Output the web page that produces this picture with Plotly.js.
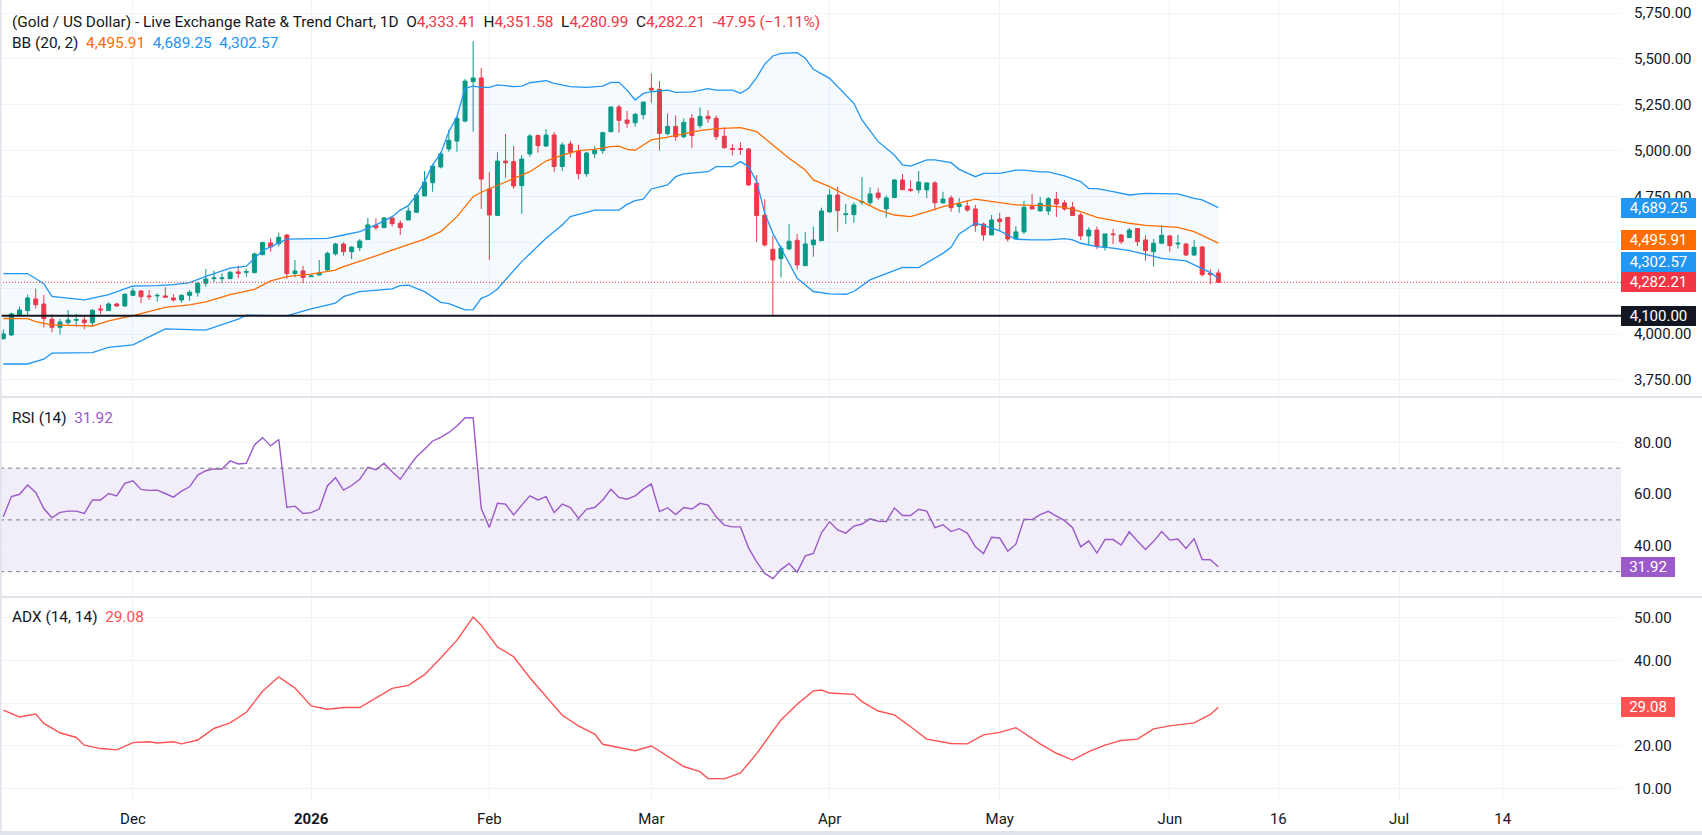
<!DOCTYPE html>
<html>
<head>
<meta charset="utf-8">
<script src="https://cdn.plot.ly/plotly-3.0.1.min.js"></script>
<style>
html,body{margin:0;padding:0;background:#ffffff;}
#chart{width:1702px;height:835px;}
</style>
</head>
<body>
<div id="chart"></div>
<script>
// ---------- DATA ----------
const openP = [3975,3995,4101,4128,4191,4164,4081,4037,4062,4075,4077,4062,4137,4128,4164,4153,4211,4235,4208,4208,4208,4197,4186,4211,4226,4277,4302,4302,4302,4339,4337,4335,4433,4497,4493,4540,4330,4344,4313,4322,4349,4437,4491,4449,4471,4515,4593,4580,4633,4604,4622,4664,4753,4825,4911,5009,5052,5161,5376,5396,4791,4647,4943,4940,4809,4982,5082,5025,5085,4913,5036,4998,4874,4983,5000,5103,5238,5167,5152,5196,5340,5334,5092,5132,5076,5176,5136,5187,5176,5078,5011,5011,5009,4822,4648,4462,4411,4464,4511,4373,4487,4509,4666,4758,4651,4651,4718,4716,4769,4682,4744,4840,4789,4786,4786,4824,4715,4742,4695,4698,4682,4600,4540,4627,4636,4518,4557,4695,4671,4671,4736,4715,4691,4649,4535,4567,4473,4546,4540,4526,4575,4513,4449,4495,4535,4491,4491,4431,4475,4330,4333.41];
const highP = [4026,4117,4150,4215,4248,4213,4108,4082,4131,4110,4099,4135,4159,4173,4171,4222,4253,4240,4240,4222,4255,4217,4217,4240,4284,4355,4346,4331,4344,4373,4355,4444,4504,4522,4553,4546,4404,4371,4322,4404,4449,4497,4500,4480,4518,4633,4631,4637,4633,4620,4691,4767,4889,4927,4993,5114,5185,5390,5597,5450,4884,4991,5091,5025,4976,5089,5089,5118,5102,5045,5052,5031,4994,5025,5103,5238,5249,5216,5205,5265,5421,5379,5203,5192,5176,5200,5236,5220,5192,5127,5036,5045,5014,4867,4735,4535,4484,4600,4546,4557,4586,4689,4789,4802,4709,4718,4856,4800,4795,4756,4845,4873,4838,4889,4827,4834,4776,4755,4742,4731,4704,4607,4649,4660,4636,4587,4726,4764,4747,4747,4775,4729,4720,4662,4582,4587,4546,4573,4546,4578,4578,4538,4518,4595,4540,4540,4495,4513,4480,4353,4351.58];
const lowP = [3970,3990,4098,4104,4140,4035,4008,3997,4050,4041,4026,4041,4110,4128,4150,4150,4206,4168,4186,4177,4200,4177,4171,4182,4204,4259,4282,4277,4299,4304,4313,4331,4429,4449,4477,4301,4310,4277,4310,4319,4344,4428,4428,4409,4453,4515,4567,4580,4586,4540,4622,4660,4753,4776,4903,4994,4994,5154,5103,4682,4404,4644,4853,4791,4655,4967,4989,5020,4882,4889,4963,4844,4858,4958,4982,5103,5098,5125,5131,5171,5261,5000,5083,5054,5067,5014,5120,5151,5058,5011,4973,4976,4809,4502,4477,4100,4308,4458,4351,4371,4422,4509,4662,4558,4600,4607,4704,4698,4731,4635,4744,4787,4775,4767,4740,4673,4715,4667,4662,4667,4558,4509,4540,4562,4504,4518,4546,4682,4671,4649,4638,4673,4646,4513,4482,4464,4455,4491,4491,4526,4480,4400,4368,4495,4449,4466,4426,4426,4313,4271,4280.99];
const closeP = [4001,4110,4131,4197,4160,4084,4037,4066,4077,4079,4062,4130,4132,4164,4153,4217,4235,4204,4204,4211,4201,4186,4211,4228,4277,4300,4306,4306,4337,4331,4340,4437,4499,4475,4528,4330,4344,4308,4317,4333,4440,4491,4449,4474,4507,4595,4580,4633,4602,4580,4671,4758,4829,4916,4982,5056,5176,5379,5396,4845,4649,4943,4934,4807,4954,5080,5027,5085,4913,5031,4991,4874,4987,5001,5098,5238,5165,5149,5198,5265,5330,5094,5132,5076,5154,5083,5187,5174,5076,5016,5007,5007,4813,4646,4486,4404,4468,4506,4377,4491,4513,4671,4758,4673,4655,4704,4722,4764,4744,4742,4840,4787,4784,4829,4824,4716,4736,4689,4709,4676,4591,4540,4622,4613,4518,4557,4691,4682,4713,4738,4709,4682,4646,4535,4567,4477,4546,4542,4504,4567,4504,4455,4495,4538,4482,4495,4431,4473,4324,4324,4282.21];

// Bollinger Bands (20, 2) at these bar numbers
const bbUpperIdx = [0,3,5,6,10,13,16,19,21,23,25,28,30,32,35,38,40,42,44,46,48,49,50,51,52,53,54,55,56,57,58,59,60,61,63,64,65,67,68,70,72,74,75,76,77,78,79,80,82,83,85,87,88,90,91,92,93,94,95,96,98,99,100,102,103,105,106,108,110,111,112,114,115,117,118,120,121,123,125,126,128,129,131,133,134,135,137,139,141,143,145,147,148,150];
const bbUpper = [4330,4330,4275,4206,4186,4215,4262,4264,4270,4280,4315,4360,4370,4455,4518,4518,4522,4540,4558,4595,4640,4676,4700,4758,4831,4922,4985,5103,5185,5340,5352,5345,5345,5358,5349,5352,5370,5381,5367,5349,5345,5352,5372,5372,5330,5276,5312,5321,5330,5318,5320,5338,5330,5330,5312,5340,5398,5472,5516,5530,5534,5503,5443,5394,5349,5258,5167,5049,4976,4922,4916,4949,4950,4934,4898,4858,4876,4876,4894,4894,4884,4884,4862,4831,4793,4793,4776,4758,4767,4764,4764,4740,4731,4689.25];
const bbBasisIdx = [0,3,4,6,11,13,16,20,23,25,28,31,33,35,38,41,42,44,46,48,50,52,54,56,57,58,59,60,61,63,65,67,69,71,73,75,76,77,78,79,80,82,84,86,88,91,93,94,96,97,99,100,102,104,106,108,110,112,114,116,117,119,120,123,125,127,129,131,133,135,137,139,141,143,145,147,150];
const bbBasis = [4085,4084,4068,4050,4044,4072,4100,4146,4159,4175,4215,4244,4290,4313,4327,4349,4368,4395,4426,4458,4489,4518,4558,4640,4695,4749,4773,4791,4813,4849,4885,4943,4976,5000,5007,5022,5024,5007,5002,5031,5058,5073,5091,5109,5120,5125,5103,5067,4994,4958,4894,4840,4804,4758,4722,4677,4649,4640,4666,4695,4704,4727,4735,4716,4704,4702,4700,4691,4667,4636,4618,4604,4593,4586,4582,4558,4495.91];
const bbLowerIdx = [0,3,5,6,11,13,16,20,25,29,30,35,38,40,41,42,44,48,49,50,52,54,55,57,58,59,60,61,64,67,69,70,73,76,77,78,79,80,82,83,84,87,88,90,91,92,93,94,95,97,98,100,102,104,105,107,109,111,113,114,116,117,118,120,121,123,125,127,129,131,132,133,135,137,139,141,143,146,147,149,150];
const bbLower = [3837,3837,3863,3896,3899,3928,3941,4028,4022,4081,4103,4099,4137,4159,4168,4204,4231,4246,4264,4266,4231,4173,4166,4132,4133,4195,4213,4246,4395,4522,4595,4640,4676,4676,4707,4727,4735,4791,4813,4858,4873,4885,4913,4913,4940,4913,4831,4658,4549,4386,4304,4232,4219,4217,4232,4295,4331,4364,4362,4388,4440,4473,4546,4604,4593,4562,4517,4513,4513,4520,4513,4495,4477,4469,4455,4435,4413,4399,4377,4335,4302.57];

// RSI (14), one value per bar
const rsi = [51.2,59.0,59.9,63.5,60.6,54.4,50.8,52.9,53.4,53.4,
52.5,57.7,57.7,60.2,59.3,64.1,65.1,61.8,61.4,61.5,
60.2,58.8,61.1,62.8,67.3,69.0,69.7,69.7,72.8,71.6,
71.9,79.0,81.8,78.6,81.1,54.8,55.3,52.5,52.8,54.2,
63.1,66.3,61.5,63.3,65.7,70.3,69.4,71.9,68.6,65.7,
70.2,74.4,77.3,80.5,81.9,83.8,86.3,89.5,89.5,54.4,
47.1,56.4,56.1,51.9,55.7,59.3,57.7,59.0,52.8,56.1,
54.8,50.6,54.2,54.8,57.7,61.8,58.7,58.0,59.3,61.9,
63.9,53.2,54.7,52.1,54.8,54.2,56.4,55.7,51.2,48.0,
47.3,47.3,39.2,33.8,29.3,27.3,30.8,33.2,29.8,36.1,
37.0,45.0,49.3,46.1,44.9,47.6,48.4,50.4,49.5,49.4,
54.6,51.7,51.7,54.1,53.4,47.0,48.1,45.5,46.6,44.9,
39.6,37.0,43.3,43.0,37.9,40.6,50.3,50.1,52.0,53.3,
51.5,49.7,47.0,39.6,41.9,37.2,42.4,42.4,40.3,45.4,
41.8,38.6,41.7,45.5,42.2,42.6,39.0,42.7,34.7,34.6,
31.92];

// ADX (14, 14) read at these bar numbers
const adxIdx = [0,2,4,5,7,9,10,12,14,16,18,19,21,22,24,26,28,30,32,34,36,38,40,42,44,46,48,50,52,54,56,58,59,61,63,65,67,69,71,73,74,76,78,80,82,84,86,87,89,91,93,96,98,100,101,102,105,106,108,110,112,114,117,119,121,123,125,128,130,132,134,136,138,140,142,144,147,149,150];
const adxVal = [28.4,26.8,27.5,25.3,23.1,22.0,20.2,19.4,19.1,20.8,21.0,20.7,21.0,20.5,21.4,24.1,25.4,27.9,32.8,36.2,33.6,29.4,28.6,29.0,29.0,31.3,33.5,34.2,36.7,40.6,44.8,50.2,48.3,43.2,40.9,36.0,31.5,27.2,24.7,22.8,20.4,19.6,18.9,20.0,17.5,15.2,14.0,12.4,12.3,13.7,18.2,26.1,29.8,32.9,33.1,32.4,32.1,30.4,28.2,27.3,24.5,21.6,20.6,20.5,22.6,23.2,24.3,20.5,18.3,16.7,18.7,20.2,21.3,21.6,24.0,24.7,25.4,27.4,29.08];

// Time axis labels (bar number of each label) and texts
const timeTickIdx = [16,38,60,80,102,123,144,157.4,172.3,185.1];
const timeTickText = ['Dec','<b>2026</b>','Feb','Mar','Apr','May','Jun','16','Jul','14'];

// Axis ticks (labels hidden under the value tags in the reference are listed separately)
const priceTicks = [3750,4000,4250,4500,4750,5000,5250,5500,5750];
const priceTicksHidden = [4250,4500];
const rsiTicks = [40,60,80];
const adxTicks = [10,20,30,40,50];
const adxTicksHidden = [30];
const rsiLevels = [70,50,30];

const supportLevel = 4100;
const titleText = '(Gold / US Dollar) - Live Exchange Rate &amp; Trend Chart, 1D';
const changeText = '-47.95 (\u22121.11%)';

// ---------- CHART ----------
const UP = '#089981', DOWN = '#F23645', BLUE = '#2196F3', ORANGE = '#FF6D00', RSIC = '#9B59C9', ADXC = '#FF5252', INK = '#131722';
const FONT = 'Roboto, "Noto Sans", sans-serif';
const barIdx = closeP.map((_, i) => i);
const n = closeP.length - 1;
const fmt = v => Number(v).toLocaleString('en-US', {minimumFractionDigits: 2, maximumFractionDigits: 2});
const col = (c, t) => `<span style="color:${c}">${t}</span>`;
const sp = '\u00A0\u00A0';
const tickLabels = (vals, hidden) => vals.map(v => hidden.includes(v) ? '' : fmt(v));

const traces = [
  {x: bbLowerIdx, y: bbLower, type: 'scatter', mode: 'lines', line: {color: BLUE, width: 1.3}, hoverinfo: 'skip', xaxis: 'x', yaxis: 'y'},
  {x: bbUpperIdx, y: bbUpper, type: 'scatter', mode: 'lines', line: {color: BLUE, width: 1.3}, fill: 'tonexty', fillcolor: 'rgba(33,150,243,0.05)', hoverinfo: 'skip', xaxis: 'x', yaxis: 'y'},
  {x: bbBasisIdx, y: bbBasis, type: 'scatter', mode: 'lines', line: {color: ORANGE, width: 1.3}, hoverinfo: 'skip', xaxis: 'x', yaxis: 'y'},
  {x: barIdx, open: openP, high: highP, low: lowP, close: closeP, type: 'candlestick', whiskerwidth: 0,
   increasing: {line: {color: UP, width: 1}, fillcolor: UP},
   decreasing: {line: {color: DOWN, width: 1}, fillcolor: DOWN},
   hoverinfo: 'skip', xaxis: 'x', yaxis: 'y'},
  {x: barIdx, y: rsi, type: 'scatter', mode: 'lines', line: {color: RSIC, width: 1.4}, hoverinfo: 'skip', xaxis: 'x', yaxis: 'y2'},
  {x: adxIdx, y: adxVal, type: 'scatter', mode: 'lines', line: {color: ADXC, width: 1.4}, hoverinfo: 'skip', xaxis: 'x', yaxis: 'y3'}
];

const GRID = '#F0F3FA';
const yCommon = {side: 'right', showgrid: true, gridcolor: GRID, zeroline: false, showline: false,
  ticks: 'outside', ticklen: 9, tickcolor: 'rgba(0,0,0,0)', tickfont: {family: FONT, size: 15, color: INK}, fixedrange: true};

const shapes = [
  {type: 'rect', xref: 'paper', x0: 0, x1: 1, yref: 'y2', y0: 30, y1: 70, fillcolor: 'rgba(126,87,194,0.1)', line: {width: 0}, layer: 'below'},
  ...rsiLevels.map(v => ({type: 'line', xref: 'paper', x0: 0, x1: 1, yref: 'y2', y0: v, y1: v, line: {color: '#787B86', width: 1, dash: '4px,4px'}})),
  {type: 'line', xref: 'paper', x0: 0, x1: 1, yref: 'y', y0: closeP[n], y1: closeP[n], line: {color: DOWN, width: 1, dash: '1px,2px'}},
  {type: 'line', xref: 'paper', x0: 0, x1: 1, yref: 'y', y0: supportLevel, y1: supportLevel, line: {color: INK, width: 2}},
  {type: 'line', xref: 'paper', x0: 0, x1: 1.06, yref: 'paper', y0: 0.50375, y1: 0.50375, line: {color: '#E0E3EB', width: 2}},
  {type: 'line', xref: 'paper', x0: 0, x1: 1.06, yref: 'paper', y0: 0.25375, y1: 0.25375, line: {color: '#E0E3EB', width: 2}},
  {type: 'line', xref: 'paper', x0: 0, x1: 1.06, yref: 'paper', y0: -0.0413, y1: -0.0413, line: {color: '#E0E3EB', width: 4}},
  {type: 'line', xref: 'paper', x0: 0.0004, x1: 0.0004, yref: 'paper', y0: -0.044, y1: 1, line: {color: '#E0E3EB', width: 2}}
];

const tag = (yref, y, text, bg, w, yshift) => ({xref: 'paper', x: 1, xanchor: 'left', yref: yref, y: y, yanchor: 'middle', yshift: yshift || 0,
  text: text, showarrow: false, bgcolor: bg, borderpad: 1, borderwidth: 0, width: w, align: 'center',
  font: {family: FONT, size: 15, color: '#ffffff'}});

const legendAnn = (text, ypx) => ({xref: 'paper', x: 0, xanchor: 'left', xshift: 10, yref: 'paper', y: 1, yanchor: 'middle', yshift: -ypx,
  text: text, showarrow: false, align: 'left', font: {family: FONT, size: 15.4, color: INK}});

const line1 = titleText + sp + 'O' + col(DOWN, fmt(openP[n])) + sp + 'H' + col(DOWN, fmt(highP[n])) + sp + 'L' + col(DOWN, fmt(lowP[n])) + sp + 'C' + col(DOWN, fmt(closeP[n])) + sp + col(DOWN, changeText);
const line2 = 'BB (20, 2)' + sp + col(ORANGE, fmt(bbBasis[bbBasis.length - 1])) + sp + col(BLUE, fmt(bbUpper[bbUpper.length - 1])) + sp + col(BLUE, fmt(bbLower[bbLower.length - 1]));
const line3 = 'RSI (14)' + sp + col(RSIC, fmt(rsi[n]));
const line4 = 'ADX (14, 14)' + sp + col(ADXC, fmt(adxVal[adxVal.length - 1]));

const annotations = [
  legendAnn(line1, 21.5), legendAnn(line2, 42.5), legendAnn(line3, 418), legendAnn(line4, 617),
  tag('y', bbUpper[bbUpper.length - 1], fmt(bbUpper[bbUpper.length - 1]), BLUE, 73),
  tag('y', bbBasis[bbBasis.length - 1], fmt(bbBasis[bbBasis.length - 1]), ORANGE, 73, 3),
  tag('y', bbLower[bbLower.length - 1], fmt(bbLower[bbLower.length - 1]), BLUE, 73, 17),
  tag('y', closeP[n], fmt(closeP[n]), DOWN, 73),
  tag('y', supportLevel, fmt(supportLevel), INK, 73),
  tag('y2', rsi[n], fmt(rsi[n]), RSIC, 52),
  tag('y3', adxVal[adxVal.length - 1], fmt(adxVal[adxVal.length - 1]), ADXC, 52)
];

const layout = {
  width: 1702, height: 835,
  margin: {l: 0, r: 81, t: 0, b: 35, pad: 0},
  paper_bgcolor: '#ffffff', plot_bgcolor: '#ffffff',
  showlegend: false, hovermode: false,
  boxgap: 0.3,
  font: {family: FONT, color: INK},
  xaxis: {range: [-0.41, 199.7], anchor: 'y3', tickvals: timeTickIdx, ticktext: timeTickText,
    showgrid: true, gridcolor: GRID, zeroline: false, showline: false,
    ticks: 'outside', ticklen: 5, tickcolor: 'rgba(0,0,0,0)', tickfont: {family: FONT, size: 15, color: INK},
    rangeslider: {visible: false}, fixedrange: true},
  yaxis: Object.assign({}, yCommon, {domain: [0.50375, 1], range: [3657, 5821], tickvals: priceTicks, ticktext: tickLabels(priceTicks, priceTicksHidden), anchor: 'x'}),
  yaxis2: Object.assign({}, yCommon, {domain: [0.25375, 0.50375], range: [20.2, 97.5], tickvals: rsiTicks, ticktext: tickLabels(rsiTicks, []), anchor: 'x'}),
  yaxis3: Object.assign({}, yCommon, {domain: [0, 0.25375], range: [7.35, 54.9], tickvals: adxTicks, ticktext: tickLabels(adxTicks, adxTicksHidden), anchor: 'x'}),
  shapes: shapes,
  annotations: annotations
};

Plotly.newPlot('chart', traces, layout, {displayModeBar: false, staticPlot: true});
</script>
</body>
</html>
